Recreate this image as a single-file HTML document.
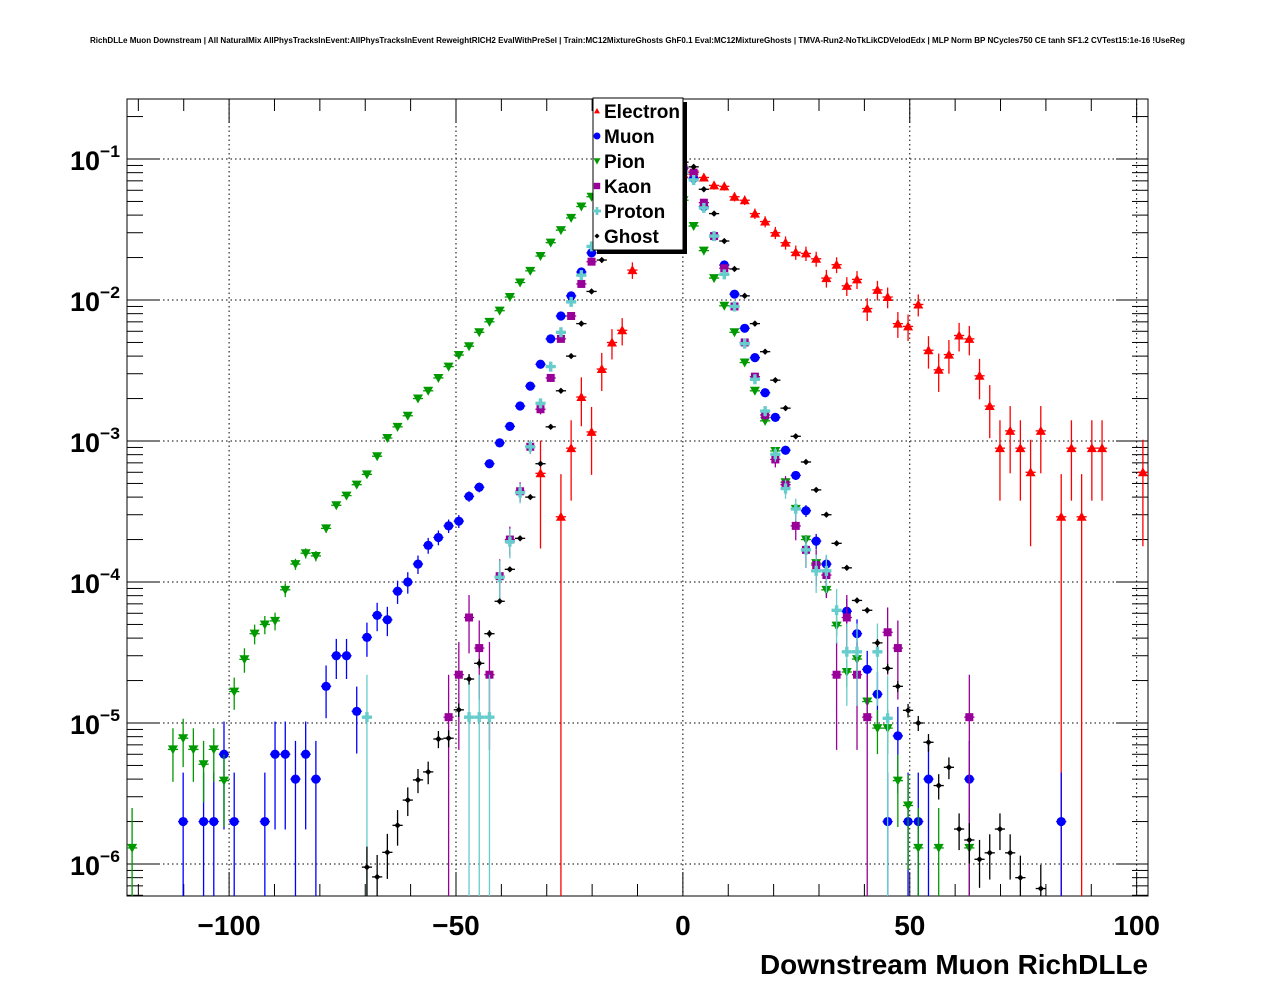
<!DOCTYPE html>
<html><head><meta charset="utf-8">
<style>
html,body{margin:0;padding:0;background:#fff;}
svg{display:block;font-family:"Liberation Sans",Arial,sans-serif;}
</style></head>
<body>
<svg id="chart" width="1276" height="996" viewBox="0 0 1276 996" xmlns="http://www.w3.org/2000/svg">
<rect x="0" y="0" width="1276" height="996" fill="#fff"/>
<text x="90" y="43" font-size="8" font-weight="bold" textLength="1095" lengthAdjust="spacingAndGlyphs">RichDLLe Muon Downstream | All NaturalMix AllPhysTracksInEvent:AllPhysTracksInEvent ReweightRICH2 EvalWithPreSel | Train:MC12MixtureGhosts GhF0.1 Eval:MC12MixtureGhosts | TMVA-Run2-NoTkLikCDVelodEdx | MLP Norm BP NCycles750 CE tanh SF1.2 CVTest15:1e-16 !UseReg</text>
<g id="grid"></g>
<g id="axes"></g>
<g id="series"></g>
<g id="legend"></g>
<text x="1148" y="974" font-size="28" font-weight="bold" text-anchor="end" textLength="388" lengthAdjust="spacingAndGlyphs">Downstream Muon RichDLLe</text>
</svg>
<script>
// ---- data (bin index i -> center x = -121.375 + 2.25*i) ----
const electronBins = [40,42,43,44,45,46,47,48,49,50,51,52,53,54,55,56,57,58,59,60,61,62,63,64,65,66,67,68,69,70,71,72,73,74,75,76,77,78,79,80,81,82,83,84,85,86,87,88,89,91,92,93,94,95,99];
const electronVals = [5.9e-4,2.9e-4,8.9e-4,2.05e-3,1.16e-3,3.24e-3,5.0e-3,6.1e-3,1.63e-2,2.5e-2,3.5e-2,5e-2,6.5e-2,7.8e-2,8.2e-2,7.4e-2,6.5e-2,6.4e-2,5.4e-2,5.1e-2,4.1e-2,3.6e-2,3.0e-2,2.55e-2,2.18e-2,2.14e-2,1.96e-2,1.43e-2,1.78e-2,1.26e-2,1.4e-2,8.7e-3,1.18e-2,1.05e-2,6.8e-3,6.5e-3,9.3e-3,4.4e-3,3.2e-3,4.1e-3,5.6e-3,5.3e-3,2.9e-3,1.77e-3,8.9e-4,1.18e-3,8.9e-4,6.0e-4,1.18e-3,2.9e-4,8.9e-4,2.9e-4,8.9e-4,8.9e-4,6.0e-4];

const muonBins = [5,7,8,9,10,13,14,15,16,17,18,19,20,21,22,23,24,25,26,27,28,29,30,31,32,33,34,35,36,37,38,39,40,41,42,43,44,45,46,47,48,49,50,51,52,53,54,55,56,57,58,59,60,61,62,63,64,65,66,67,68,70,71,72,73,74,75,76,77,78,82,91];
const muonVals = [2e-6,2e-6,2e-6,6e-6,2e-6,2e-6,6e-6,6e-6,4e-6,6e-6,4e-6,1.82e-5,3.0e-5,3.0e-5,1.21e-5,4.05e-5,5.8e-5,5.4e-5,8.6e-5,1.0e-4,1.34e-4,1.82e-4,2.07e-4,2.5e-4,2.7e-4,4.05e-4,4.7e-4,6.9e-4,9.7e-4,1.27e-3,1.77e-3,2.45e-3,3.5e-3,5.3e-3,7.7e-3,1.07e-2,1.58e-2,2.16e-2,3e-2,4e-2,5.3e-2,6.8e-2,8.2e-2,9.5e-2,1.0e-1,9.6e-2,8.6e-2,7.3e-2,4.6e-2,2.84e-2,1.77e-2,1.1e-2,6.3e-3,3.9e-3,2.2e-3,1.47e-3,8.6e-4,5.7e-4,3.2e-4,1.95e-4,1.34e-4,6.2e-5,4.3e-5,2.4e-5,1.6e-5,2e-6,8.1e-6,2e-6,2e-6,4e-6,4e-6,2e-6];

const pionBins = [0,4,5,6,7,8,9,10,11,12,13,14,15,16,17,18,19,20,21,22,23,24,25,26,27,28,29,30,31,32,33,34,35,36,37,38,39,40,41,42,43,44,45,46,47,48,49,50,51,52,53,54,55,56,57,58,59,60,61,62,63,64,65,66,67,68,69,70,71,72,73,74,75,76,77,79,82];
const pionVals = [1.3e-6,6.5e-6,7.8e-6,6.5e-6,5.1e-6,6.5e-6,3.9e-6,1.67e-5,2.83e-5,4.3e-5,5.0e-5,5.3e-5,8.8e-5,1.34e-4,1.6e-4,1.53e-4,2.4e-4,3.5e-4,4.1e-4,4.9e-4,5.8e-4,7.8e-4,1.05e-3,1.26e-3,1.51e-3,2.0e-3,2.27e-3,2.8e-3,3.37e-3,4.07e-3,4.7e-3,5.9e-3,7.0e-3,8.4e-3,1.05e-2,1.33e-2,1.61e-2,2.05e-2,2.55e-2,3.13e-2,3.82e-2,4.6e-2,5.4e-2,6.3e-2,7.2e-2,8e-2,8.5e-2,8.8e-2,8.5e-2,7.5e-2,6.3e-2,5.1e-2,3.35e-2,2.24e-2,1.43e-2,9.1e-3,5.9e-3,3.6e-3,2.27e-3,1.39e-3,8.5e-4,5.1e-4,3.3e-4,2.0e-4,1.36e-4,8.8e-5,4.9e-5,2.3e-5,2.84e-5,1.42e-5,9.2e-6,9.2e-6,3.9e-6,2.6e-6,1.3e-6,1.3e-6,1.3e-6];

const kaonBins = [31,32,33,34,35,36,37,38,39,40,41,42,43,44,45,46,47,48,49,50,51,52,53,54,55,56,57,58,59,60,61,62,63,64,65,66,67,68,69,70,71,72,74,75,82];
const kaonVals = [1.1e-5,2.2e-5,5.6e-5,3.4e-5,2.2e-5,1.1e-4,2.0e-4,4.4e-4,9.1e-4,1.68e-3,2.8e-3,5.3e-3,7.7e-3,1.3e-2,1.87e-2,2.7e-2,3.8e-2,5e-2,6.3e-2,7.5e-2,8.5e-2,9e-2,9e-2,8.6e-2,8.0e-2,4.9e-2,2.84e-2,1.68e-2,9.0e-3,5.0e-3,2.86e-3,1.53e-3,7.4e-4,4.9e-4,2.5e-4,1.69e-4,1.32e-4,1.12e-4,2.2e-5,5.6e-5,2.2e-5,1.1e-5,4.4e-5,3.4e-5,1.1e-5];

const protonBins = [23,33,34,35,36,37,38,39,40,41,42,43,44,45,46,47,48,49,50,51,52,53,54,55,56,57,58,59,60,61,62,63,64,65,66,67,68,69,70,71,73,74];
const protonVals = [1.1e-5,1.1e-5,1.1e-5,1.1e-5,1.08e-4,1.93e-4,4.3e-4,9.1e-4,1.85e-3,3.37e-3,5.9e-3,9.7e-3,1.5e-2,2.4e-2,3.3e-2,4.3e-2,5.5e-2,6.7e-2,7.8e-2,8.7e-2,9.1e-2,8.8e-2,8.0e-2,7.1e-2,4.5e-2,2.84e-2,1.52e-2,9.0e-3,4.9e-3,2.74e-3,1.63e-3,8.05e-4,4.6e-4,3.3e-4,1.69e-4,1.2e-4,1.2e-4,6.3e-5,3.2e-5,3.2e-5,3.2e-5,1.08e-5];

const ghostBins = [23,24,25,26,27,28,29,30,31,32,33,34,35,36,37,38,39,40,41,42,43,44,45,46,47,48,49,50,51,52,53,54,55,56,57,58,59,60,61,62,63,64,65,66,67,68,69,70,71,72,73,74,75,76,77,78,79,80,81,82,83,84,85,86,87,89];
const ghostVals = [9.5e-7,8.1e-7,1.21e-6,1.88e-6,2.84e-6,3.95e-6,4.5e-6,7.7e-6,7.8e-6,1.24e-5,2.05e-5,2.65e-5,4.3e-5,7.3e-5,1.23e-4,2.04e-4,4.0e-4,6.9e-4,1.26e-3,2.27e-3,4.0e-3,6.8e-3,1.15e-2,1.92e-2,2.9e-2,4.1e-2,5.5e-2,7e-2,8.3e-2,9.3e-2,9.8e-2,9.5e-2,8.8e-2,6.1e-2,4.1e-2,2.62e-2,1.66e-2,1.07e-2,6.8e-3,4.3e-3,2.7e-3,1.71e-3,1.08e-3,7.1e-4,4.5e-4,3.0e-4,1.88e-4,1.26e-4,7.4e-5,6.3e-5,3.7e-5,2.44e-5,1.82e-5,1.23e-5,1.0e-5,7.3e-6,3.6e-6,4.85e-6,1.77e-6,1.48e-6,1.08e-6,1.2e-6,1.77e-6,1.2e-6,8e-7,6.7e-7];

const legendLabels = ["Electron","Muon","Pion","Kaon","Proton","Ghost"];
const xTickValues = [-100,-50,0,50,100];
const xTickLabels = ["\u2212100","\u221250","0","50","100"];
const yDecades = [-1,-2,-3,-4,-5,-6];
</script>
<script>
const NS="http://www.w3.org/2000/svg";
const L=127,R=1148,T=99,B=896;
const XMIN=-122.5,XMAX=102.5,BW=2.25;
const yTopLog=-1+(159-T)/141, yBotLog=-6-(B-864)/141;
function xPx(x){return L+(x-XMIN)*(R-L)/(XMAX-XMIN);}
function yPx(v){return T+(yTopLog-Math.log10(v))*(B-T)/(yTopLog-yBotLog);}
function binX(i){return XMIN+BW*(i+0.5);}
function mk(tag,attrs,parent){const e=document.createElementNS(NS,tag);for(const k in attrs)e.setAttribute(k,attrs[k]);parent.appendChild(e);return e;}
const grid=document.getElementById('grid'),axes=document.getElementById('axes'),ser=document.getElementById('series'),leg=document.getElementById('legend');

xTickValues.forEach(v=>{const l=mk('line',{x1:xPx(v),x2:xPx(v),y1:T,y2:B,stroke:'#000','stroke-width':1,'stroke-dasharray':'1.5,3'},grid);

});
yDecades.forEach(d=>{const y=yPx(Math.pow(10,d));const l=mk('line',{x1:L,x2:R,y1:y,y2:y,stroke:'#000','stroke-width':1,'stroke-dasharray':'1.5,3'},grid);

});

const fr=mk('rect',{x:L,y:T,width:R-L,height:B-T,fill:'none',stroke:'#000','stroke-width':1},axes);



for(let v=-120;v<=100;v+=10){const x=xPx(v);const major=(v%50===0);const len=major?24:12;
 mk('line',{x1:x,x2:x,y1:B,y2:B-len,stroke:'#000','stroke-width':1},axes);
 mk('line',{x1:x,x2:x,y1:T,y2:T+len,stroke:'#000','stroke-width':1},axes);}
xTickValues.forEach((v,i)=>{const t=mk('text',{x:xPx(v),y:935,'font-size':28,'font-weight':'bold','text-anchor':'middle'},axes);t.textContent=xTickLabels[i];

});

for(let d=-7;d<=-1;d++){for(let m=1;m<=9;m++){const v=m*Math.pow(10,d);const y=yPx(v);if(y<T||y>B)continue;const len=(m===1)?32:16;
 mk('line',{x1:L,x2:L+len,y1:y,y2:y,stroke:'#000','stroke-width':1},axes);
 mk('line',{x1:R,x2:R-len,y1:y,y2:y,stroke:'#000','stroke-width':1},axes);}}
yDecades.forEach(d=>{const y=yPx(Math.pow(10,d));const t=mk('text',{x:100,y:y+11,'font-size':27,'font-weight':'bold','text-anchor':'end'},axes);t.textContent='10';


const s=mk('text',{x:100,y:y-2,'font-size':17,'font-weight':'bold',textLength:20,lengthAdjust:'spacingAndGlyphs'},axes);s.textContent='\u2212'+(-d);

});

function marker(g,type,x,y,c){
 if(type==='tu')mk('polygon',{points:`${x-5},${y+4} ${x+5},${y+4} ${x},${y-5}`,fill:c},g);
 else if(type==='td')mk('polygon',{points:`${x-5},${y-4} ${x+5},${y-4} ${x},${y+5}`,fill:c},g);
 else if(type==='c')mk('circle',{cx:x,cy:y,r:4.6,fill:c},g);
 else if(type==='s')mk('rect',{x:x-4,y:y-4,width:8,height:8,fill:c},g);
 else if(type==='p')mk('polygon',{points:`${x-1.7},${y-5} ${x+1.7},${y-5} ${x+1.7},${y-1.7} ${x+5},${y-1.7} ${x+5},${y+1.7} ${x+1.7},${y+1.7} ${x+1.7},${y+5} ${x-1.7},${y+5} ${x-1.7},${y+1.7} ${x-5},${y+1.7} ${x-5},${y-1.7} ${x-1.7},${y-1.7}`,fill:c},g);
 else if(type==='d')mk('polygon',{points:`${x},${y-3.2} ${x+3.2},${y} ${x},${y+3.2} ${x-3.2},${y}`,fill:c},g);
}
const seriesDefs=[
 {name:'electron',bins:electronBins,vals:electronVals,color:'#ff0000',type:'tu',unit:2.95e-4},
 {name:'muon',bins:muonBins,vals:muonVals,color:'#0000ff',type:'c',unit:3e-6},
 {name:'pion',bins:pionBins,vals:pionVals,color:'#009900',type:'td',unit:1.1e-6},
 {name:'kaon',bins:kaonBins,vals:kaonVals,color:'#990099',type:'s',unit:1.1e-5},
 {name:'proton',bins:protonBins,vals:protonVals,color:'#66cccc',type:'p',unit:1.1e-5},
 {name:'ghost',bins:ghostBins,vals:ghostVals,color:'#000000',type:'d',unit:1.5e-7}
];
seriesDefs.forEach(s=>{
 const g=mk('g',{},ser);
 
 
 s.bins.forEach((b,i)=>{const v=s.vals[i];const xc=binX(b);const x=xPx(xc);const y=yPx(v);
  const rel=Math.sqrt(s.unit/v);const lo=v*(1-rel),hi=v*(1+rel);
  const yhi=Math.max(T,yPx(hi));const ylo=lo>0?Math.min(B,yPx(lo)):B;
  const pg=mk('g',{},g);
  
  
  if(y<T||y>B)return;
  mk('line',{x1:x,x2:x,y1:yhi,y2:ylo,stroke:s.color,'stroke-width':1.3},pg);
  mk('line',{x1:xPx(xc-BW/2),x2:xPx(xc+BW/2),y1:y,y2:y,stroke:s.color,'stroke-width':1.3},pg);
  marker(pg,s.type,x,y,s.color);
 });
});

const lx=593,ly=98,lw=90,lh=152;
mk('rect',{x:lx+4,y:ly+4,width:lw,height:lh,fill:'#000'},leg);
const lb=mk('rect',{x:lx,y:ly,width:lw,height:lh,fill:'#fff',stroke:'#000','stroke-width':1},leg);


legendLabels.forEach((lab,i)=>{const y=ly+13+25*i;const s=seriesDefs[i];
 const eg=mk('g',{},leg);
 
 
 const sz={tu:0.6,c:0.75,td:0.7,s:0.8,p:0.8,d:0.8}[s.type];
 const mg=mk('g',{transform:`translate(${lx+4},${y}) scale(${sz})`},eg);
 marker(mg,s.type,0,0,s.color);
 const t=mk('text',{x:lx+11,y:y+7,'font-size':19,'font-weight':'bold'},eg);t.textContent=lab;
});
</script>
</body></html>
